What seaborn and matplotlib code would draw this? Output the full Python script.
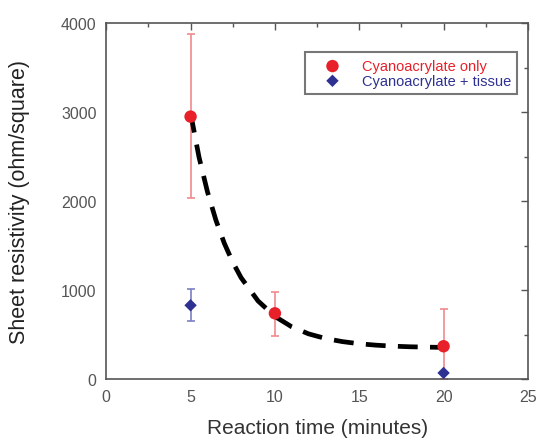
import numpy as np
import pandas as pd
import matplotlib
matplotlib.use("Agg")
import matplotlib.pyplot as plt
import seaborn as sns
from matplotlib.ticker import MultipleLocator

# data
time_only = [5, 10, 20]
res_only = [2950, 740, 370]
err_only_lo = [920, 260, 370]
err_only_hi = [930, 240, 420]

time_tissue = [5, 20]
res_tissue = [830, 70]
err_tissue = [180, 0]

fit_time = [5, 5.5, 6, 6.5, 7, 7.5, 8, 9, 10, 11, 12, 13, 14, 15, 16, 17, 18, 19, 20]
fit_res = [2990, 2495, 2106, 1788, 1527, 1314, 1139, 879, 705, 588, 509, 457, 422, 398, 382, 371, 364, 360, 357]

sns.set_style("white")
plt.rcParams["font.family"] = ["Liberation Sans", "DejaVu Sans"]

fig = plt.figure(figsize=(5.42, 4.39), dpi=100)
ax = fig.add_axes([0.196, 0.134, 0.778, 0.811])

red = "#e8202a"
blue = "#2e3192"

fit_df = pd.DataFrame({"t": fit_time, "r": fit_res})
sns.lineplot(data=fit_df, x="t", y="r", ax=ax, color="black", lw=3.4,
             linestyle=(0, (4.2, 2.6)), zorder=3)

ax.errorbar(time_only, res_only, yerr=[err_only_lo, err_only_hi], fmt="none",
            ecolor="#f08a8c", elinewidth=1.2, capsize=3, capthick=1.2, zorder=2)
ax.errorbar(time_tissue, res_tissue, yerr=err_tissue, fmt="none",
            ecolor="#7b7fc0", elinewidth=1.2, capsize=3, capthick=1.2, zorder=2)

df_only = pd.DataFrame({"t": time_only, "r": res_only})
df_tissue = pd.DataFrame({"t": time_tissue, "r": res_tissue})
sns.scatterplot(data=df_only, x="t", y="r", ax=ax, color=red, marker="o", s=80,
                edgecolor="none", label="Cyanoacrylate only", zorder=4)
sns.scatterplot(data=df_tissue, x="t", y="r", ax=ax, color=blue, marker="D", s=40,
                edgecolor="none", label="Cyanoacrylate + tissue", zorder=4)

ax.set_xlim(0, 25)
ax.set_ylim(0, 4000)
ax.xaxis.set_major_locator(MultipleLocator(5))
ax.xaxis.set_minor_locator(MultipleLocator(2.5))
ax.yaxis.set_major_locator(MultipleLocator(1000))
ax.yaxis.set_minor_locator(MultipleLocator(500))
ax.tick_params(which="both", direction="in", top=True, right=True, color="#555555",
               labelcolor="#555555", labelsize=11.5)
ax.tick_params(which="major", length=5, width=1, pad=7)
ax.tick_params(which="minor", length=3, width=1)
for s in ax.spines.values():
    s.set_color("#555555")
    s.set_linewidth(1.2)

ax.set_xlabel("Reaction time (minutes)", fontsize=15, color="#333333", labelpad=10)
ax.set_ylabel("Sheet resistivity (ohm/square)", fontsize=15.5, color="#222222", labelpad=22)

leg = ax.legend(loc="upper right", bbox_to_anchor=(0.975, 0.918), fontsize=10.5,
                frameon=True, fancybox=False, handletextpad=0.57, borderpad=0.45,
                labelspacing=0.05, handlelength=2.85, borderaxespad=0)
leg.get_frame().set_edgecolor("#555555")
leg.get_frame().set_linewidth(1.5)
for txt, c in zip(leg.get_texts(), [red, blue]):
    txt.set_color(c)

fig.savefig("out.png", dpi=100)
